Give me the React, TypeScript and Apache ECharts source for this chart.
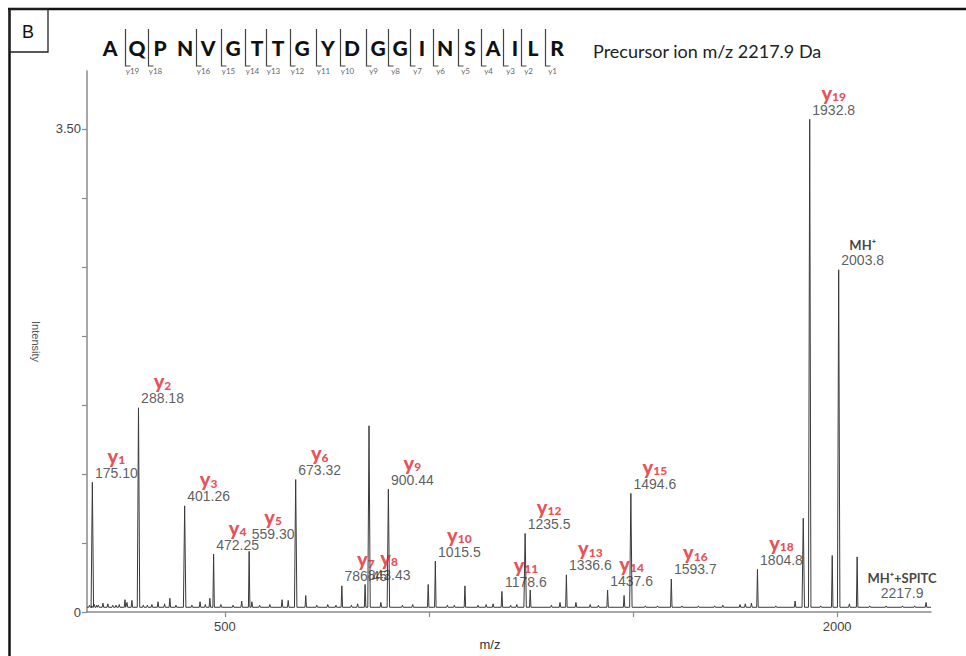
import React, { useEffect, useRef } from 'react';
import * as echarts from 'echarts';

// ---------- data ----------
const PANEL_LETTER = 'B';
const SEQUENCE = ['A', 'Q', 'P', 'N', 'V', 'G', 'T', 'T', 'G', 'Y', 'D', 'G', 'G', 'I', 'N', 'S', 'A', 'I', 'L', 'R'];
const MISSING_Y_IONS = [17];
const PRECURSOR_TEXT = 'Precursor ion m/z 2217.9 Da';

// annotated ions
const ION_NAMES = ['1', '2', '3', '4', '5', '6', '7', '8', '9', '10', '11', '12', '13', '14', '15', '16', '18', '19', 'MH⁺', 'MH⁺+SPITC'];
const ION_MZ = [175.10, 288.18, 401.26, 472.25, 559.30, 673.32, 786.45, 843.43, 900.44, 1015.5, 1178.6, 1235.5, 1336.6, 1437.6, 1494.6, 1593.7, 1804.8, 1932.8, 2003.8, 2217.9];
const ION_INTENSITY = [0.94, 1.48, 0.77, 0.42, 0.44, 0.96, 0.19, 0.20, 0.89, 0.37, 0.15, 0.57, 0.27, 0.16, 0.86, 0.24, 0.31, 3.57, 2.48, 0.07];

// other (unannotated) peaks
const OTHER_MZ = [168, 174, 180, 186, 190, 201, 213, 225, 233, 241, 255, 260, 272, 300, 310, 321, 336, 352, 365, 380, 419, 439, 452, 463, 490, 520, 541, 566, 585, 610, 640, 655, 698, 725, 752, 772, 810, 825, 853, 882, 935, 960, 998, 1045, 1062, 1088, 1120, 1140, 1157, 1200, 1215, 1248, 1300, 1321, 1360, 1395, 1415, 1478, 1530, 1560, 1620, 1660, 1700, 1720, 1762, 1775, 1790, 1850, 1897, 1917, 1960, 1988, 2030, 2049, 2080, 2120, 2160, 2190];
const OTHER_INTENSITY = [0.05, 0.045, 0.055, 0.05, 0.05, 0.065, 0.06, 0.05, 0.05, 0.055, 0.09, 0.07, 0.085, 0.05, 0.05, 0.055, 0.075, 0.06, 0.1, 0.05, 0.05, 0.075, 0.055, 0.1, 0.055, 0.05, 0.08, 0.075, 0.05, 0.055, 0.09, 0.085, 0.12, 0.05, 0.055, 0.05, 0.05, 0.06, 1.35, 0.07, 0.05, 0.055, 0.2, 0.05, 0.05, 0.19, 0.05, 0.055, 0.06, 0.05, 0.055, 0.16, 0.05, 0.07, 0.07, 0.055, 0.05, 0.12, 0.045, 0.045, 0.045, 0.045, 0.045, 0.05, 0.055, 0.06, 0.065, 0.045, 0.08, 0.68, 0.045, 0.41, 0.06, 0.40, 0.045, 0.045, 0.045, 0.045];
const BASELINE = 0.035;

const X_MIN = 162;
const X_MAX = 2230;
const Y_MAX = 3.92;
const X_TICKS = [500, 1000, 1500, 2000];
const X_LABELS = [500, 2000];
const Y_TICKS = [0, 0.5, 1, 1.5, 2, 2.5, 3, 3.5];
const Y_LABELS = [0, 3.5];

// ---------- layout / style (not data) ----------
const SEQ_X = [110, 137, 160, 185, 208, 233, 257, 278, 302, 328, 352, 378, 400, 422, 445, 470, 493, 515, 533, 557];
const LABEL_OFFSET: Record<string, number[]> = { '5': [24, -8], 'MH⁺+SPITC': [-24, 0] };
const RED = '#e3222a';
const SANS = '"Liberation Sans", Arial, sans-serif';

function buildSpectrum(): number[][] {
  const peaks: number[][] = [];
  ION_MZ.forEach((m, i) => peaks.push([m, ION_INTENSITY[i]]));
  OTHER_MZ.forEach((m, i) => peaks.push([m, OTHER_INTENSITY[i]]));
  peaks.sort((a, b) => a[0] - b[0]);
  const pts: number[][] = [[X_MIN, BASELINE]];
  peaks.forEach(([m, h]) => {
    const w = h > 0.5 ? 3 : 1.8;
    pts.push([m - w, BASELINE], [m, h], [m + w, BASELINE]);
  });
  pts.push([X_MAX, BASELINE]);
  return pts;
}

function buildLabels() {
  return ION_NAMES.map((name, i) => {
    const num = ION_MZ[i].toPrecision(5);
    const isY = /^\d+$/.test(name);
    const top = isY ? `{y|y}{s|${name}}` : `{m|${name}}`;
    return {
      value: [ION_MZ[i], ION_INTENSITY[i]],
      label: {
        formatter: `${top}\n{n|${num}}`,
        offset: LABEL_OFFSET[name] || [24, 0],
      },
    };
  });
}

function buildHeader(): any[] {
  const els: any[] = [];
  // frame
  els.push({ type: 'line', shape: { x1: 8, y1: 9, x2: 966, y2: 9 }, style: { stroke: '#111', lineWidth: 2.5 } });
  els.push({ type: 'line', shape: { x1: 9.5, y1: 8, x2: 9.5, y2: 656 }, style: { stroke: '#111', lineWidth: 2.5 } });
  els.push({ type: 'rect', shape: { x: 9.5, y: 9, width: 38.5, height: 43 }, style: { fill: 'none', stroke: '#222', lineWidth: 1.3 } });
  els.push({ type: 'text', x: 28, y: 32, style: { text: PANEL_LETTER, font: `18px ${SANS}`, fill: '#111', align: 'center', verticalAlign: 'middle' } });
  // sequence
  SEQUENCE.forEach((aa, i) => {
    els.push({
      type: 'text', x: SEQ_X[i], y: 47,
      style: { text: aa, font: '900 21px Lato, "Open Sans", sans-serif', fill: '#111', align: 'center', verticalAlign: 'middle' },
    });
    if (i > 0) {
      const ion = SEQUENCE.length - i;
      if (MISSING_Y_IONS.indexOf(ion) === -1) {
        const bx = SEQ_X[i] - 11.5;
        els.push({ type: 'polyline', shape: { points: [[bx, 29], [bx, 66], [bx + 5, 66]] }, style: { stroke: '#444', lineWidth: 1.2, fill: 'none' } });
        els.push({
          type: 'text', x: bx + 7, y: 71,
          style: { text: 'y' + ion, font: '8px Lato, "Open Sans", sans-serif', fill: '#666', align: 'center', verticalAlign: 'middle' },
        });
      }
    }
  });
  els.push({
    type: 'text', x: 593, y: 51,
    style: { text: PRECURSOR_TEXT, font: '18px Lato, "Open Sans", sans-serif', fill: '#222', align: 'left', verticalAlign: 'middle' },
  });
  return els;
}

export default function App() {
  const ref = useRef<HTMLDivElement>(null);
  useEffect(() => {
    const chart = echarts.init(ref.current!, null, { renderer: 'svg' });
    const axisColor = '#8a8a8a';
    chart.setOption({
      animation: false,
      backgroundColor: '#fff',
      grid: { left: 87, right: 35, top: 71, bottom: 38, containLabel: false },
      xAxis: {
        type: 'value', min: X_MIN, max: X_MAX,
        name: 'm/z', nameLocation: 'middle', nameGap: 11,
        nameTextStyle: { fontFamily: SANS, fontSize: 13, color: '#333', padding: [0, 38, 0, 0], verticalAlign: 'top' },
        axisLine: { show: true, lineStyle: { color: axisColor, width: 1.5 } },
        axisTick: { show: true, length: 5, customValues: X_TICKS, lineStyle: { color: axisColor, width: 1.2 } },
        axisLabel: {
          customValues: X_LABELS, fontFamily: SANS, fontSize: 13, color: '#444', margin: 8,
          formatter: (v: number) => String(v),
        },
        splitLine: { show: false },
      },
      yAxis: {
        type: 'value', min: 0, max: Y_MAX,
        name: 'Intensity', nameLocation: 'middle', nameGap: 46, nameRotate: -90,
        nameTextStyle: { fontFamily: SANS, fontSize: 11, color: '#555' },
        axisLine: { show: true, lineStyle: { color: axisColor, width: 1.5 } },
        axisTick: { show: true, length: 5, customValues: Y_TICKS, lineStyle: { color: axisColor, width: 1.2 } },
        axisLabel: {
          customValues: Y_LABELS, fontFamily: SANS, fontSize: 13, color: '#444', margin: 6,
          formatter: (v: number) => (v === 0 ? '0' : v.toFixed(2)),
        },
        splitLine: { show: false },
      },
      series: [
        {
          type: 'line', data: buildSpectrum(), showSymbol: false, symbol: 'none', silent: true,
          lineStyle: { color: '#3a3a3a', width: 1 }, z: 2,
        },
        {
          type: 'scatter', data: buildLabels(), symbolSize: 1, silent: true, z: 3,
          itemStyle: { color: 'rgba(0,0,0,0)' },
          label: {
            show: true, position: 'top', distance: 2, align: 'center',
            rich: {
              y: { fontFamily: 'Lato, "Open Sans", sans-serif', fontWeight: 900, fontSize: 20, color: RED, lineHeight: 20, align: 'center' },
              s: { fontFamily: 'Lato, "Open Sans", sans-serif', fontWeight: 900, fontSize: 12, color: RED, lineHeight: 6, verticalAlign: 'bottom', align: 'center' },
              m: { fontFamily: 'Lato, "Open Sans", sans-serif', fontWeight: 'bold', fontSize: 13, color: '#111', lineHeight: 16, align: 'center' },
              n: { fontFamily: SANS, fontSize: 14, color: '#333', lineHeight: 14, align: 'center' },
            },
          },
        },
      ],
      graphic: buildHeader(),
    });
    return () => chart.dispose();
  }, []);
  return <div ref={ref} style={{ position: 'absolute', left: 0, top: 0, width: 966, height: 656, background: '#fff' }} />;
}
